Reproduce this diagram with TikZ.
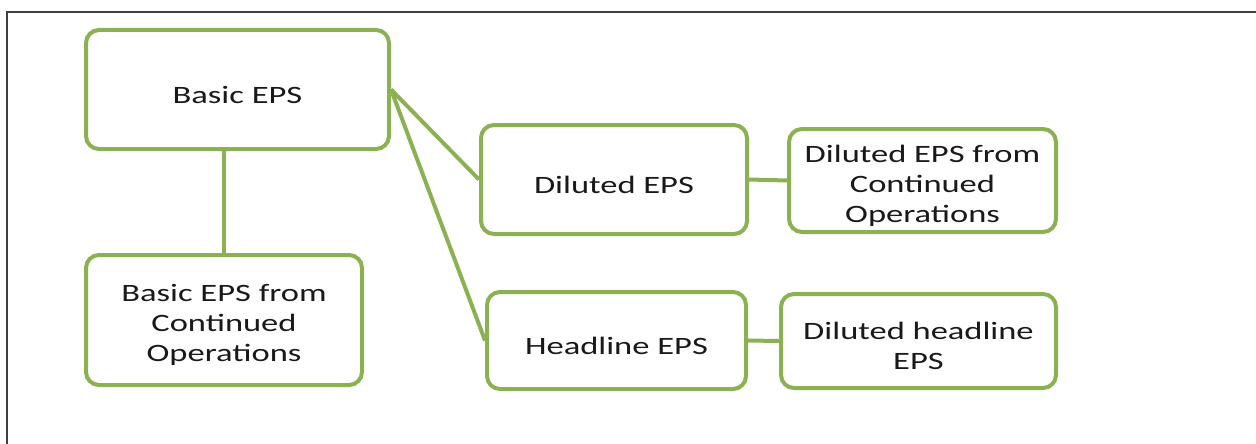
\documentclass[tikz,border=0pt]{standalone}
\usepackage{fontspec}
\setmainfont{Carlito}[FakeStretch=1.38]
\begin{document}
\begin{tikzpicture}[x=1pt,y=-1pt,
  epsbox/.style={draw=epsgreen, line width=4pt, rounded corners=13pt, fill=white, inner sep=0pt},
  epstext/.style={align=center, text=textgray, inner sep=0pt, yshift=-5pt,
    font=\fontsize{25}{30}\selectfont},
  link/.style={draw=epsgreen, line width=4pt}]
\definecolor{epsgreen}{RGB}{140,177,82}
\definecolor{textgray}{RGB}{25,25,25}
\useasboundingbox (0,0) rectangle (1256,444);
\fill[white] (0,0) rectangle (1256,444);
\draw[line width=2pt, draw=black!75] (7,444) -- (7,12) -- (1256,12);
\node[epsbox, minimum width=303pt, minimum height=119pt,
  label={[epstext]center:Basic EPS}] (basic) at (237.5,89.5) {};
\node[epsbox, minimum width=276pt, minimum height=130pt,
  label={[epstext]center:Basic EPS from\\Continued\\Operations}] (bcont) at (224,320) {};
\node[epsbox, minimum width=266pt, minimum height=109pt,
  label={[epstext]center:Diluted EPS}] (dil) at (614,179.5) {};
\node[epsbox, minimum width=267pt, minimum height=103pt,
  label={[epstext]center:Diluted EPS from\\Continued\\Operations}] (dcont) at (922.5,180.5) {};
\node[epsbox, minimum width=259pt, minimum height=97pt,
  label={[epstext]center:Headline EPS}] (head) at (616.5,340.5) {};
\node[epsbox, minimum width=275pt, minimum height=94pt,
  label={[epstext]center:Diluted headline\\EPS}] (dhead) at (918.5,341) {};
\draw[link] (basic.east) -- (dil.west);
\draw[link] (basic.east) -- (head.west);
\draw[link] (bcont.north |- basic.south) -- (bcont.north);
\draw[link] (dil.east) -- (dcont.west);
\draw[link] (head.east) -- (dhead.west);
\end{tikzpicture}
\end{document}
